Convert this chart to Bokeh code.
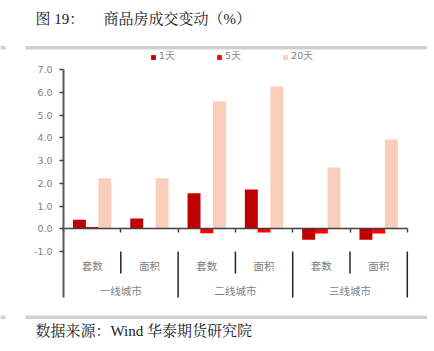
from bokeh.plotting import figure
from bokeh.models import (ColumnDataSource, Range1d, LinearAxis, FixedTicker, Label,
                          Legend, LegendItem, BoxAnnotation, NumeralTickFormatter)
from bokeh.transform import dodge
from bokeh.core.properties import value
from bokeh.embed import file_html
from bokeh.resources import INLINE

# ---- data ----
groups = ["一线城市", "二线城市", "三线城市"]
metrics = ["套数", "面积"]
series_names = ["1天", "5天", "20天"]
d1 = [0.40, 0.45, 1.57, 1.73, -0.48, -0.48]
d5 = [0.08, 0.02, -0.20, -0.16, -0.21, -0.21]
d20 = [2.23, 2.23, 5.62, 6.27, 2.70, 3.93]
y_ticks = [-1, 0, 1, 2, 3, 4, 5, 6, 7]
title_prefix = "图 19："
title_text = "商品房成交变动（%）"
source_text = "数据来源：Wind  华泰期货研究院"

colors = ["#C00000", "#FF0000", "#F9CFBB"]

W, H = 434, 351
# pixel calibration
X0_PX, X_UNIT = 63.0, 57.3      # x=0 at 63 px, one category = 57.3 px
Y0_PX, Y_UNIT = 228.3, 22.71    # y=0 at 228.3 px from top

def px_x(px):
    return (px - X0_PX) / X_UNIT

def px_y(py):
    return (Y0_PX - py) / Y_UNIT

p = figure(width=W, height=H, output_backend="svg", toolbar_location=None,
           x_axis_location=None, y_axis_location=None, min_border=0,
           x_range=Range1d(px_x(0), px_x(W)), y_range=Range1d(px_y(H), px_y(0)))
p.outline_line_color = None
p.grid.visible = False
p.background_fill_color = "white"
p.border_fill_color = "white"

n = len(metrics) * len(groups)
xs = [i + 0.5 for i in range(n)]
cats = [m for g in groups for m in metrics]
src = ColumnDataSource(dict(x=xs, d1=d1, d5=d5, d20=d20, cat=cats))

off = 0.222
bw = 0.226
r1 = p.vbar(x=dodge("x", -off), top="d1", bottom=0, width=bw, source=src,
            fill_color=colors[0], line_color=None)
r5 = p.vbar(x=dodge("x", 0.0), top="d5", bottom=0, width=bw, source=src,
            fill_color=colors[1], line_color=None)
r20 = p.vbar(x=dodge("x", off), top="d20", bottom=0, width=bw, source=src,
             fill_color=colors[2], line_color=None)

# y axis (fixed inside frame at x=0)
yax = LinearAxis(fixed_location=0, ticker=FixedTicker(ticks=y_ticks),
                 bounds=(px_y(297), 7))
yax.formatter = NumeralTickFormatter(format="0.0")
yax.axis_line_color = "#595959"
yax.axis_line_width = 2
yax.major_tick_line_color = "#404040"
yax.major_tick_line_width = 1.5
yax.major_tick_out = 4
yax.major_tick_in = 0
yax.minor_tick_line_color = None
yax.major_label_standoff = 7
yax.major_label_text_font = "DejaVu Sans"
yax.major_label_text_font_size = "9.5px"
yax.major_label_text_color = "#7f7f7f"
p.add_layout(yax, "left")

# x axis at y=0
xax = LinearAxis(fixed_location=0, ticker=FixedTicker(ticks=list(range(n + 1))),
                 bounds=(0, n))
xax.major_label_overrides = {i: "" for i in range(n + 1)}
xax.major_label_text_font_size = "1px"
xax.axis_line_color = "#404040"
xax.axis_line_width = 1.5
xax.major_tick_line_color = "#404040"
xax.major_tick_line_width = 1.5
xax.major_tick_out = 4
xax.major_tick_in = 0
xax.minor_tick_line_color = None
p.add_layout(xax, "below")

# category labels
p.text(x=xs, y=[px_y(265)] * n, text=cats, text_align="center", text_baseline="middle",
       text_font=value("Noto Sans CJK SC"), text_font_size="10.5px", text_color="#7f7f7f")
gx = [2 * i + 1 for i in range(len(groups))]
p.text(x=gx, y=[px_y(290)] * len(groups), text=groups, text_align="center",
       text_baseline="middle", text_font=value("Noto Sans CJK SC"),
       text_font_size="10.5px", text_color="#7f7f7f")

# separators
short_x = [2 * i + 1 for i in range(len(groups))]
long_x = [2 * i + 2 for i in range(len(groups))]
p.segment(x0=short_x, x1=short_x, y0=[-1.0] * 3, y1=[px_y(273)] * 3,
          line_color="#262626", line_width=1.5)
p.segment(x0=long_x, x1=long_x, y0=[-1.0] * 3, y1=[px_y(297)] * 3,
          line_color="#262626", line_width=1.5)

# legend
legend = Legend(items=[LegendItem(label=series_names[0], renderers=[r1]),
                       LegendItem(label=series_names[1], renderers=[r5]),
                       LegendItem(label=series_names[2], renderers=[r20])],
                orientation="horizontal", location=(150, H - 63),
                padding=0, margin=0, spacing=41,
                glyph_width=6, glyph_height=6, label_standoff=3,
                label_width=0, label_height=10,
                label_text_font="DejaVu Sans", label_text_font_size="9.5px",
                label_text_color="#7f7f7f",
                border_line_alpha=0, background_fill_alpha=0)
p.add_layout(legend, "center")

# gray rules
for top_px in (45.5, 315.0):
    yt, yb = px_y(top_px), px_y(top_px + 3.5)
    p.add_layout(BoxAnnotation(left=px_x(25), right=px_x(426.5), top=yt, bottom=yb,
                               fill_color="#D0D0D0", fill_alpha=1, line_color=None))
    p.add_layout(BoxAnnotation(left=px_x(0), right=px_x(5), top=yt, bottom=yb,
                               fill_color="#D0D0D0", fill_alpha=1, line_color=None))

serif = "Liberation Serif, Noto Serif CJK SC, Noto Sans CJK SC"
p.add_layout(Label(x=35, y=H - 18, x_units="screen", y_units="screen", text=title_prefix,
                   text_font=serif, text_font_size="15px", text_color="#1a1a1a",
                   text_baseline="middle"))
p.add_layout(Label(x=103, y=H - 18, x_units="screen", y_units="screen", text=title_text,
                   text_font=serif, text_font_size="15px", text_color="#1a1a1a",
                   text_baseline="middle"))
p.add_layout(Label(x=35, y=H - 330, x_units="screen", y_units="screen", text=source_text,
                   text_font=serif, text_font_size="15px", text_color="#1a1a1a",
                   text_baseline="middle"))

open("out.html", "w").write(file_html(p, INLINE))
